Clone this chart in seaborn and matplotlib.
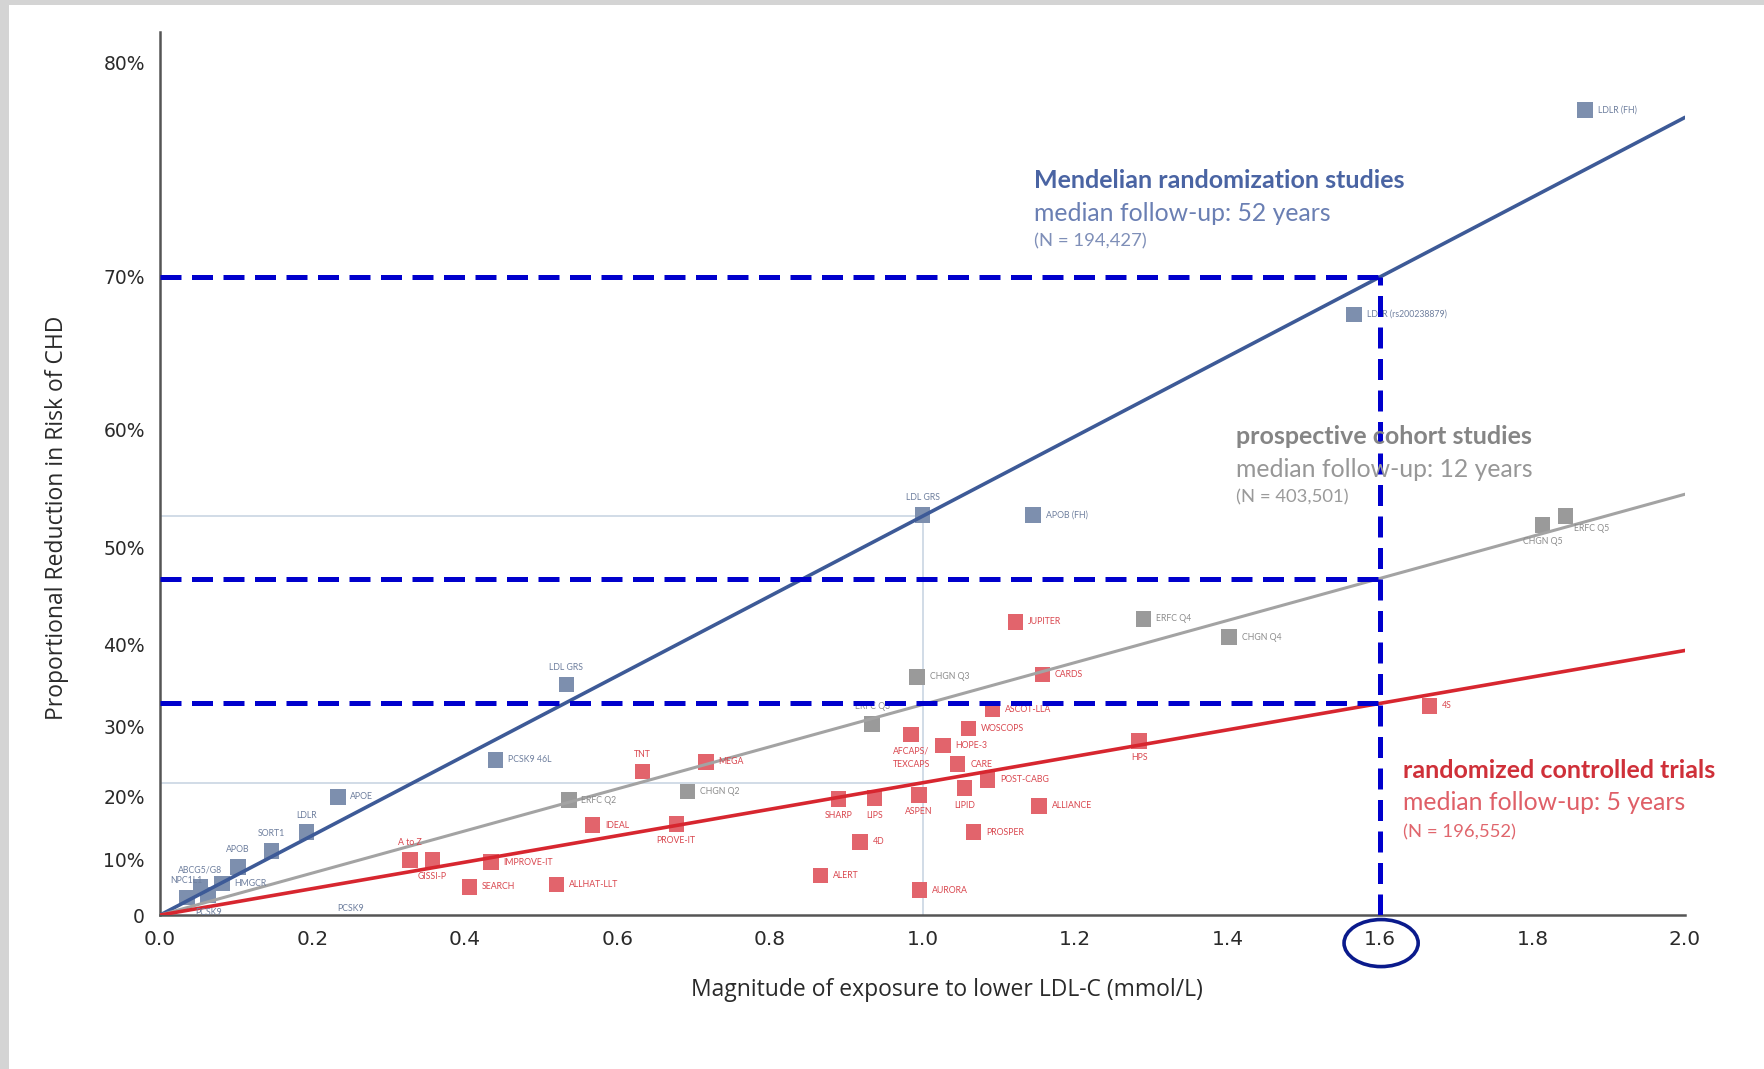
import numpy as np
import pandas as pd
import matplotlib
matplotlib.use("Agg")
import matplotlib.pyplot as plt
from matplotlib.patches import Ellipse, Rectangle
import seaborn as sns

# Mendelian randomization studies (x = mmol/L lower LDL-C, y = % reduction)
mr_names = ['LDLR (FH)', 'LDLR (rs200238879)', 'LDL GRS', 'APOB (FH)', 'LDL GRS',
            'PCSK9 46L', 'APOE', 'LDLR', 'SORT1', 'APOB', 'HMGCR', 'ABCG5/G8',
            'NPC1L1', 'PCSK9']
mr_x = [1.869, 1.566, 1.0, 1.145, 0.533, 0.44, 0.233, 0.192, 0.146, 0.102,
        0.081, 0.053, 0.035, 0.063]
mr_y = [78.1, 67.8, 53.0, 53.0, 35.3, 25.4, 20.0, 14.5, 11.4, 8.7, 5.8, 5.2, 3.3, 3.7]

# prospective cohort studies
co_names = ['ERFC Q5', 'CHGN Q5', 'ERFC Q4', 'CHGN Q4', 'CHGN Q3', 'ERFC Q3',
            'ERFC Q2', 'CHGN Q2']
co_x = [1.843, 1.813, 1.29, 1.402, 0.993, 0.934, 0.536, 0.692]
co_y = [52.9, 52.1, 42.8, 40.8, 36.2, 30.3, 19.5, 20.8]

# randomized controlled trials
rct_names = ['4S', 'JUPITER', 'CARDS', 'ASCOT-LLA', 'WOSCOPS', 'HOPE-3',
             'AFCAPS/\nTEXCAPS', 'CARE', 'POST-CABG', 'LIPID', 'ALLIANCE', 'PROSPER',
             'HPS', 'ASPEN', 'LIPS', 'SHARP', '4D', 'ALERT', 'AURORA', 'MEGA', 'TNT',
             'PROVE-IT', 'IDEAL', 'IMPROVE-IT', 'ALLHAT-LLT', 'SEARCH', 'GISSI-P', 'A to Z']
rct_x = [1.665, 1.122, 1.157, 1.092, 1.06, 1.027, 0.985, 1.046, 1.085, 1.055, 1.153,
         1.067, 1.284, 0.995, 0.937, 0.89, 0.918, 0.866, 0.996, 0.716, 0.633, 0.677,
         0.567, 0.434, 0.52, 0.406, 0.357, 0.328]
rct_y = [32.6, 42.5, 36.5, 32.2, 29.7, 27.4, 28.9, 24.8, 22.5, 21.3, 18.6, 14.5,
         28.0, 20.3, 19.8, 19.7, 12.9, 7.2, 4.6, 25.1, 23.7, 15.8, 15.6, 9.5, 5.6,
         5.2, 9.9, 9.9]

# fitted lines: end points at x = 2.0
line_x = [0.0, 2.0]
mr_line = [0.0, 77.8]
co_line = [0.0, 54.8]
rct_line = [0.0, 39.3]

# read-off guides at 1.6 mmol/L and 1.0 mmol/L
guide_x = 1.6
guide_y = [70.0, 47.0, 33.0]
ref_x = 1.0
ref_y = [52.9, 22.1]

y_ticks = [0, 10, 20, 30, 40, 50, 60, 70, 80]
x_ticks = [0.0, 0.2, 0.4, 0.6, 0.8, 1.0, 1.2, 1.4, 1.6, 1.8, 2.0]

# label placement: r = right, a = above, b = below, q = below right
mr_pos = ['r', 'r', 'a', 'r', 'a', 'r', 'r', 'a', 'a', 'a', 'r', 'a', 'a', 'b']
co_pos = ['q', 'b', 'r', 'r', 'r', 'a', 'r', 'r']
rct_pos = ['r', 'r', 'r', 'r', 'r', 'r', 'b', 'r', 'r', 'b', 'r', 'r', 'b', 'b', 'b',
           'b', 'r', 'r', 'r', 'r', 'a', 'b', 'r', 'r', 'r', 'r', 'b', 'a']

C_MR, C_MR_PT = '#3d5a97', '#7d8fae'
C_CO, C_CO_PT = '#a3a3a3', '#9a9a9a'
C_RCT, C_RCT_PT = '#d7262f', '#e2646c'

sns.set_style('white')
plt.rcParams['font.family'] = ['Lato', 'DejaVu Sans']


def fwd(p):
    p = np.clip(np.asarray(p, dtype=float), -50, 99.99)
    return -np.log(1 - p / 100.0)


def inv(t):
    return 100.0 * (1 - np.exp(-np.asarray(t, dtype=float)))


fig = plt.figure(figsize=(17.65, 10.69), dpi=100)
fig.patch.set_facecolor('#d4d4d4')
fig.add_artist(Rectangle((9 / 1765, 0), 1, 1 - 5 / 1069, transform=fig.transFigure,
                         facecolor='white', edgecolor='none', zorder=0))
ax = fig.add_axes([0.0907, 0.144, 0.864, 0.826])
ax.set_facecolor('none')
ax.set_yscale('function', functions=(fwd, inv))

pts = pd.concat([
    pd.DataFrame({'x': mr_x, 'y': mr_y, 'name': mr_names, 'pos': mr_pos, 'grp': 'mr'}),
    pd.DataFrame({'x': co_x, 'y': co_y, 'name': co_names, 'pos': co_pos, 'grp': 'co'}),
    pd.DataFrame({'x': rct_x, 'y': rct_y, 'name': rct_names, 'pos': rct_pos, 'grp': 'rct'}),
], ignore_index=True)
lines = pd.DataFrame({
    'x': line_x * 3,
    'y': mr_line + co_line + rct_line,
    'grp': ['mr'] * 2 + ['co'] * 2 + ['rct'] * 2,
})

# thin reference lines at 1.0 mmol/L
for yv in ref_y:
    ax.plot([0, ref_x], [yv, yv], color='#c9d6e3', lw=1.2, zorder=1)
ax.plot([ref_x, ref_x], [0, ref_y[0]], color='#c9d6e3', lw=1.2, zorder=1)

sns.scatterplot(data=pts, x='x', y='y', hue='grp', marker='s', s=125, linewidth=0,
                palette={'mr': C_MR_PT, 'co': C_CO_PT, 'rct': C_RCT_PT},
                legend=False, ax=ax, zorder=3)
sns.lineplot(data=lines, x='x', y='y', hue='grp', estimator=None, sort=False,
             palette={'mr': C_MR, 'co': C_CO, 'rct': C_RCT}, legend=False, ax=ax,
             zorder=4)
for ln, w in zip(ax.get_lines()[-3:], [2.6, 2.2, 2.6]):
    ln.set_linewidth(w)

lab_col = {'mr': '#6e7f9e', 'co': '#8c8c8c', 'rct': '#d9474f'}
offs = {'r': (9, 0, 'left', 'center'), 'a': (0, 9, 'center', 'bottom'),
        'b': (0, -9, 'center', 'top'), 'q': (6, -6, 'left', 'top')}
for _, r in pts.iterrows():
    dx, dy, ha, va = offs[r['pos']]
    ax.annotate(r['name'], (r['x'], r['y']), xytext=(dx, dy), textcoords='offset points',
                ha=ha, va=va, fontsize=6.3, color=lab_col[r['grp']], zorder=5,
                linespacing=1.6)
ax.text(0.25, 1.2, 'PCSK9', fontsize=6.3, color=lab_col['mr'], ha='center', va='center')

# blue dashed guides
dash = dict(color='#0000cc', lw=3.6, dashes=(4.2, 2.1), zorder=6, solid_capstyle='butt')
for yv in guide_y:
    ax.plot([0, guide_x], [yv, yv], **dash)
ax.plot([guide_x, guide_x], [0, guide_y[0]], **dash)

# group captions
caps = [
    (0.573, [0.832, 0.795, 0.763], ['Mendelian randomization studies',
                                     'median follow-up: 52 years', '(N = 194,427)'],
     ['#4a64a3', '#6a7fb3', '#7f8fb8']),
    (0.7055, [0.542, 0.505, 0.473], ['prospective cohort studies',
                                      'median follow-up: 12 years', '(N = 403,501)'],
     ['#858585', '#979797', '#9a9a9a']),
    (0.815, [0.164, 0.127, 0.094], ['randomized controlled trials',
                                     'median follow-up: 5 years', '(N = 196,552)'],
     ['#cf3039', '#df5f67', '#e0666d']),
]
for xf, yfs, txts, cols in caps:
    for i, (yf, t, c) in enumerate(zip(yfs, txts, cols)):
        ax.text(xf, yf, t, transform=ax.transAxes, ha='left', va='center', color=c,
                fontsize=[18, 17.8, 13.3][i], fontweight='bold' if i == 0 else 'normal',
                zorder=7)

ax.set_xlim(0, 2.0)
ax.set_ylim(0, inv(1.666))
ax.set_xticks(x_ticks)
ax.set_xticklabels([f'{v:.1f}' for v in x_ticks], fontsize=14.5, color='#2a2a2a',
                   family='DejaVu Sans')
ax.set_yticks(y_ticks)
ax.set_yticklabels(['0' if v == 0 else f'{v}%' for v in y_ticks], fontsize=13.5,
                   color='#2a2a2a', family='DejaVu Sans')
ax.tick_params(axis='both', direction='inout', length=10, width=1.3, color='#444444',
               pad=6)
ax.tick_params(axis='x', direction='out', length=5)
for s in ['top', 'right']:
    ax.spines[s].set_visible(False)
for s in ['left', 'bottom']:
    ax.spines[s].set_color('#555555')
    ax.spines[s].set_linewidth(1.8)
ax.set_xlabel('Magnitude of exposure to lower LDL-C (mmol/L)', fontsize=16.5,
              color='#2a2a2a', family='Open Sans')
ax.set_ylabel('Proportional Reduction in Risk of CHD', fontsize=16.5, color='#2a2a2a',
              family='Open Sans')
ax.xaxis.set_label_coords(0.516, -0.071)
ax.yaxis.set_label_coords(-0.060, 0.45)

# circle round the 1.6 tick label
fig.add_artist(Ellipse((0.7825, 0.1178), 0.042, 0.044, transform=fig.transFigure,
                       fill=False, edgecolor='#0a1a8c', lw=2.6))

fig.savefig('out.png', dpi=100)
